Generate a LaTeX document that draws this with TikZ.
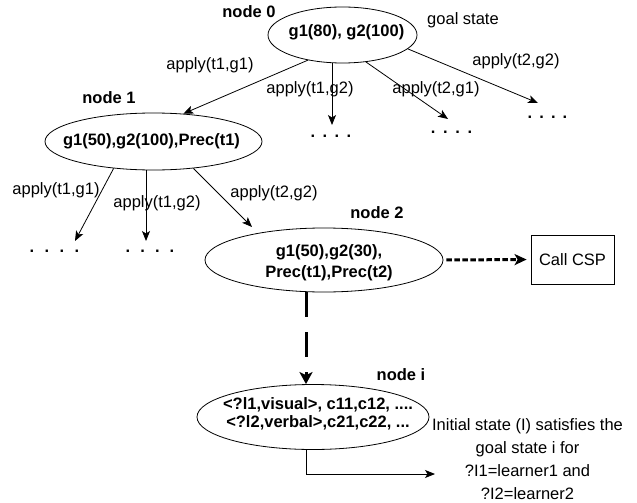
\documentclass[tikz,border=0pt]{standalone}
\usepackage{fontspec}
\setmainfont{Liberation Sans}
\usetikzlibrary{shapes.geometric,arrows.meta,calc}
\newcommand{\fourdots}[1]{.\hspace{#1}.\hspace{#1}.\hspace{#1}.}
\begin{document}
\begin{tikzpicture}[x=1pt,y=-1pt,
  every node/.style={inner sep=0pt, font=\fontsize{16.5}{18}\selectfont},
  st/.style={draw, ellipse, line width=0.8pt},
  bt/.style={font=\fontsize{16.5}{18}\selectfont\bfseries, align=center},
  lbl/.style={font=\fontsize{16.5}{18}\selectfont\bfseries},
  dotsn/.style={font=\fontsize{16.5}{18}\selectfont\bfseries, anchor=base},
  arr/.style={line width=0.8pt, -{Stealth[length=10pt,width=8pt,inset=2.5pt]}},
  thickdash/.style={line width=3pt, dash pattern=on 25pt off 15pt, -{Stealth[length=12pt,width=13pt,inset=3pt]}},
  dotarrow/.style={line width=3pt, dash pattern=on 5.5pt off 2.5pt, -{Stealth[length=12pt,width=11pt,inset=3pt]}},
  box/.style={draw, line width=0.8pt, minimum width=83pt, minimum height=49pt}
]
\useasboundingbox (0,0) rectangle (637,503);

% state ellipses
\node[st, minimum width=149pt, minimum height=56pt] (n0) at (342.5,35) {};
\node[st, minimum width=217pt, minimum height=57pt] (n1) at (153.5,141.5) {};
\node[st, minimum width=238pt, minimum height=64pt] (n2) at (324,260) {};
\node[st, minimum width=232pt, minimum height=65pt] (ni) at (313,417) {};

% texts inside
\node[bt] (t0) at (346.5,32) {g1(80), g2(100)};
\node[bt] (t1) at (151.5,141) {g1(50),g2(100),Prec(t1)};
\node[bt, font=\fontsize{16.5}{21}\selectfont\bfseries] (t2) at (329,262.5) {g1(50),g2(30),\\Prec(t1),Prec(t2)};
\node[bt] (ti) at (318,413.5) {<?l1,visual>, c11,c12, ....\\<?l2,verbal>,c21,c22, ...};

% node labels
\node[lbl] (l0) at (249,12) {node 0};
\node[lbl] (l1) at (109,98) {node 1};
\node[lbl] (l2) at (377,213) {node 2};
\node[lbl] (li) at (401,375) {node i};
\node (gs) at (463,20) {goal state};

% Call CSP
\node[box] (csp) at (572.5,259.5) {Call CSP};

% result text
\node[align=center, font=\fontsize{16.5}{23}\selectfont] (init) at (527.5,459) {Initial state (I) satisfies the\\goal state i for\\?I1=learner1 and\\?I2=learner2};

% dots
\node[dotsn] (d01) at (331,137.3) {\fourdots{7.4pt}};
\node[dotsn] (d02) at (451.5,133.3) {\fourdots{7.7pt}};
\node[dotsn] (d03) at (547.5,118.3) {\fourdots{7.1pt}};
\node[dotsn] (d11) at (54.5,252.3) {\fourdots{10.4pt}};
\node[dotsn] (d12) at (150,252.3) {\fourdots{10.1pt}};

% free ends
\coordinate (c02) at (332,125);
\coordinate (c03) at (448,119);
\coordinate (c04) at (538,103);
\coordinate (c11) at (75,241);
\coordinate (c12) at (146,241);
\coordinate (c13) at (252,227);
\coordinate (xv) at (306,0);
\coordinate (e) at (435,474);

% edges from node 0
\draw[arr] (n0.216) -- (n1.43);
\draw[arr] (n0.south -| c02) -- (c02);
\draw[arr] (n0.311) -- (c03);
\draw[arr] (n0.348) -- (c04);
% edges from node 1
\draw[arr] (n1.214.5) -- (c11);
\draw[arr] (n1.south -| c12) -- (c12);
\draw[arr] (n1.326) -- (c13);
% node 2
\draw[dotarrow, shorten <=3pt, shorten >=4pt] (n2.east) -- (csp.west);
\draw[thickdash] (n2.south -| xv) -- (ni.north -| xv);
% node i
\draw[arr] (ni.south -| xv) |- (e);

% edge labels
\node (a1) at (210,65) {apply(t1,g1)};
\node (a2) at (310,89) {apply(t1,g2)};
\node (a3) at (436,89) {apply(t2,g1)};
\node (a4) at (516,61) {apply(t2,g2)};
\node (a5) at (56,190) {apply(t1,g1)};
\node (a6) at (157,203) {apply(t1,g2)};
\node (a7) at (274,193) {apply(t2,g2)};
\end{tikzpicture}
\end{document}
